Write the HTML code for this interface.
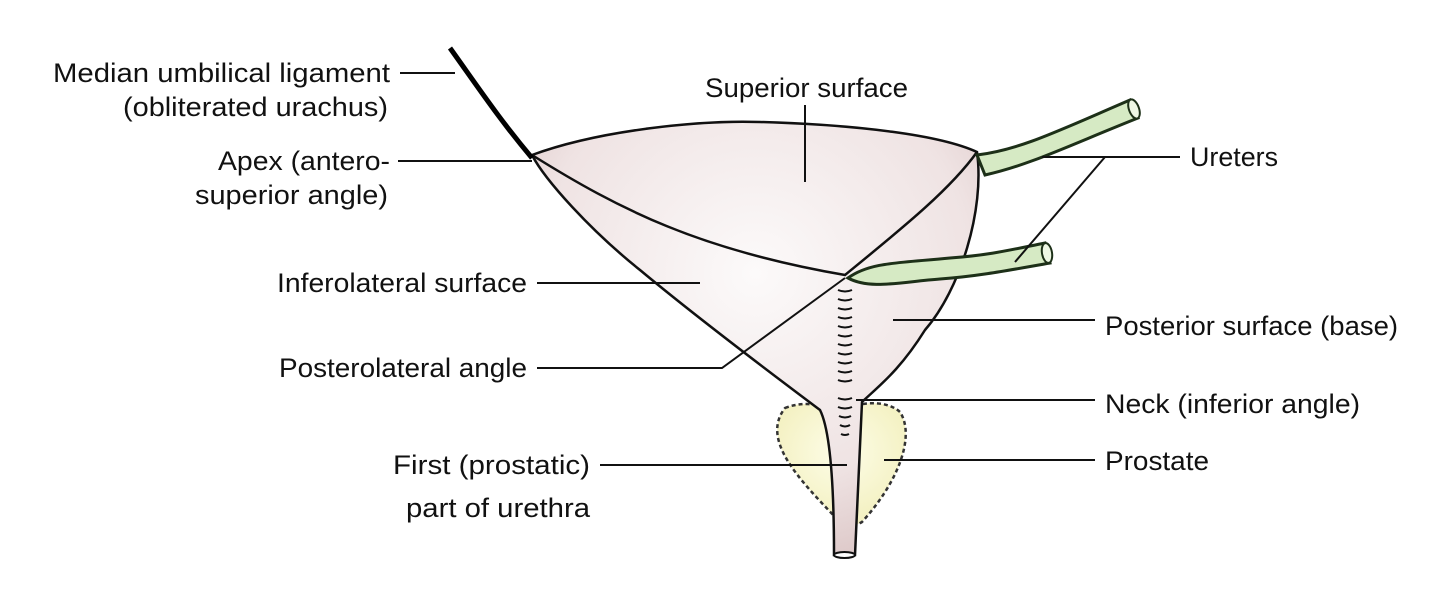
<!DOCTYPE html>
<html><head><meta charset="utf-8"><style>body{margin:0;background:#fff}svg{display:block}</style></head>
<body>
<svg width="1440" height="600" viewBox="0 0 1440 600" xmlns="http://www.w3.org/2000/svg" font-family="Liberation Sans, sans-serif" font-size="27" fill="#111">
<defs>
<radialGradient id="bl" cx="0.5" cy="0.35" r="0.7"><stop offset="0" stop-color="#fcfafa"/><stop offset="0.7" stop-color="#efe3e3"/><stop offset="1" stop-color="#dcc7c7"/></radialGradient>
<radialGradient id="pr" cx="0.5" cy="0.4" r="0.6"><stop offset="0" stop-color="#fdfde8"/><stop offset="1" stop-color="#f3f0bf"/></radialGradient>
</defs>
<path d="M785,408 C805,400 830,405 840,415 C850,402 885,398 900,412 C915,435 900,480 862,522 C852,528 844,526 836,518 C800,480 760,440 785,408 Z" fill="url(#pr)" stroke="#333" stroke-width="2.5" stroke-dasharray="4,3"/>
<path d="M532,155 C600,130 700,120 760,122 C860,125 940,135 977,152 C985,210 960,290 925,330 C900,370 880,385 862,402 L855,555 L834,555 C834,480 830,430 820,410 C780,380 700,320 640,270 C590,230 545,180 532,155 Z" fill="url(#bl)" stroke="#111" stroke-width="2.5"/>
<path d="M532,155 C620,210 700,250 845,275 C900,230 950,190 977,152" fill="none" stroke="#111" stroke-width="2.5"/>
<g stroke="#111" stroke-width="2" fill="none">
<path d="M838,290 q7,3 14,0 M838,299 q7,3 14,0 M838,308 q7,3 14,0 M838,317 q7,3 14,0 M838,326 q7,3 14,0 M838,335 q7,3 14,0 M838,344 q7,3 14,0 M838,353 q7,3 14,0 M838,362 q7,3 14,0 M838,371 q7,3 14,0 M838,380 q7,3 14,0 M838,398 q7,3 14,0 M838,407 q7,3 14,0 M839,416 q6,3 12,0 M840,425 q5,3 10,0 M841,434 q4,2 8,0"/>
</g>
<ellipse cx="844.5" cy="555" rx="10.5" ry="3" fill="#fff" stroke="#111" stroke-width="2"/>
<path d="M977,155 C1020,150 1060,130 1130,100 L1138,118 C1070,145 1030,165 985,175 Z" fill="#d6eac4" stroke="#1d3018" stroke-width="3"/>
<ellipse cx="1134" cy="109" rx="5" ry="10" transform="rotate(-20 1134 109)" fill="#eef7e4" stroke="#1d3018" stroke-width="2"/>
<path d="M848,278 C870,262 900,263 950,258 C990,255 1010,250 1045,243 L1050,263 C1010,270 980,276 940,279 C900,282 870,290 848,278 Z" fill="#d6eac4" stroke="#1d3018" stroke-width="3"/>
<ellipse cx="1047" cy="253" rx="5" ry="10" transform="rotate(-10 1047 253)" fill="#eef7e4" stroke="#1d3018" stroke-width="2"/>
<path d="M450,48 C480,90 500,120 532,158" fill="none" stroke="#000" stroke-width="5"/>
<g stroke="#111" stroke-width="2" fill="none">
<path d="M400,73 H455"/>
<path d="M398,161 H532"/>
<path d="M805,105 V182"/>
<path d="M1042,157 H1180 M1105,157 L1015,262"/>
<path d="M537,283 H700"/>
<path d="M537,368 H722 L845,278"/>
<path d="M893,320 H1095"/>
<path d="M856,400 H1095"/>
<path d="M600,465 H847"/>
<path d="M884,460 H1095"/>
</g>
<g text-anchor="end" lengthAdjust="spacingAndGlyphs">
<text x="390" y="82" textLength="337" lengthAdjust="spacingAndGlyphs">Median umbilical ligament</text>
<text x="388" y="116" textLength="265" lengthAdjust="spacingAndGlyphs">(obliterated urachus)</text>
<text x="390" y="170" textLength="172" lengthAdjust="spacingAndGlyphs">Apex (antero-</text>
<text x="388" y="204" textLength="193" lengthAdjust="spacingAndGlyphs">superior angle)</text>
<text x="527" y="292" textLength="250" lengthAdjust="spacingAndGlyphs">Inferolateral surface</text>
<text x="527" y="377" textLength="248" lengthAdjust="spacingAndGlyphs">Posterolateral angle</text>
<text x="590" y="474" textLength="197" lengthAdjust="spacingAndGlyphs">First (prostatic)</text>
<text x="590" y="517" textLength="184" lengthAdjust="spacingAndGlyphs">part of urethra</text>
</g>
<text x="705" y="97" textLength="203" lengthAdjust="spacingAndGlyphs">Superior surface</text>
<text x="1190" y="166" textLength="88" lengthAdjust="spacingAndGlyphs">Ureters</text>
<text x="1105" y="335" textLength="293" lengthAdjust="spacingAndGlyphs">Posterior surface (base)</text>
<text x="1105" y="413" textLength="255" lengthAdjust="spacingAndGlyphs">Neck (inferior angle)</text>
<text x="1105" y="470" textLength="104" lengthAdjust="spacingAndGlyphs">Prostate</text>
</svg>
</body></html>
